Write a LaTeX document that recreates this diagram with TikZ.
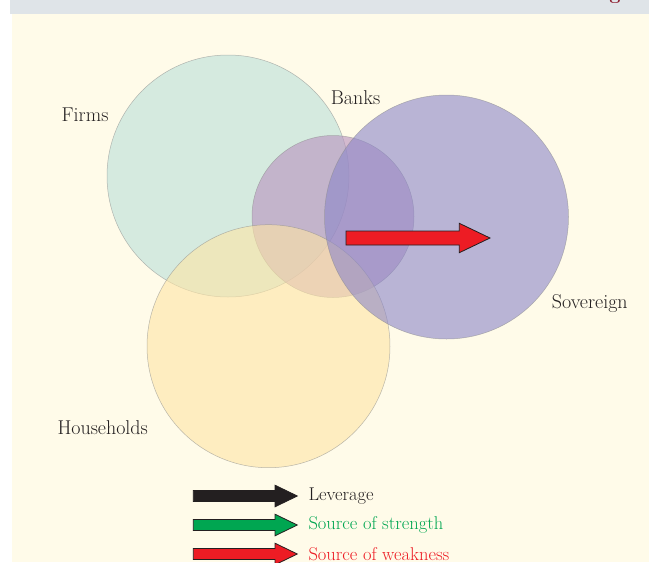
\documentclass[tikz,border=0pt]{standalone}
\usetikzlibrary{positioning}
\definecolor{bgcream}{HTML}{FFFBE9}
\definecolor{bandgray}{HTML}{DFE4E8}
\definecolor{firmsc}{HTML}{BADFD9}
\definecolor{banksc}{HTML}{B890BE}
\definecolor{housec}{HTML}{FEE5A5}
\definecolor{soverc}{HTML}{8B86C8}
\definecolor{txtdark}{HTML}{231F20}
\definecolor{arrred}{HTML}{ED1C24}
\definecolor{arrgreen}{HTML}{00A651}
\definecolor{titlered}{HTML}{8B1A2B}
\tikzset{
  setc/.style={circle, draw=black!45, draw opacity=0.6, line width=0.5pt, fill opacity=0.6, inner sep=0pt},
  lbl/.style={text=txtdark, inner sep=0pt, anchor=base west, font=\fontsize{20}{24}\selectfont},
  leg/.style={inner sep=0pt, anchor=base west, font=\fontsize{18.5}{22}\selectfont},
  fatarrow/.style={draw=txtdark, line width=0.8pt, line join=miter},
}
\begin{document}
\begin{tikzpicture}[x=1pt,y=-1pt]
\useasboundingbox (0,0) rectangle (649,563);
% background
\fill[bgcream] (12,14) rectangle (649,562);
\fill[bandgray] (10,0) rectangle (649,14);
\node[text=titlered, inner sep=0pt, anchor=base, font=\bfseries\fontsize{20}{24}\selectfont] (titleg) at (615,-1) {g};
% circles
\node[setc, fill=firmsc, minimum size=242pt] (firms) at (228,176) {};
\node[setc, fill=banksc, minimum size=162pt] (banks) at (333,216.5) {};
\node[setc, fill=housec, minimum size=243pt] (house) at (268.5,346.2) {};
\node[setc, fill=soverc, minimum size=244pt] (sover) at (446.5,217) {};
% labels
\node[lbl] (lfirms) at (61.5,121.7) {Firms};
\node[lbl] (lbanks) at (330.7,104.3) {Banks};
\node[lbl] (lsover) at (551.7,308.3) {Sovereign};
\node[lbl] (lhouse) at (57.3,434.3) {Households};
% main red arrow
\draw[fatarrow, fill=arrred] (346,231) -- (459.3,231) -- (459.3,223.3) -- (490,238) -- (459.3,252.7) -- (459.3,245) -- (346,245) -- cycle;
% legend arrows
\draw[fatarrow, fill=txtdark] (193.3,490.5) -- (275,490.5) -- (275,485.2) -- (297.3,496) -- (275,506.8) -- (275,501.5) -- (193.3,501.5) -- cycle;
\draw[fatarrow, fill=arrgreen] (193.3,519.5) -- (275,519.5) -- (275,514.2) -- (297.3,525) -- (275,535.8) -- (275,530.5) -- (193.3,530.5) -- cycle;
\draw[fatarrow, fill=arrred] (193.3,548.5) -- (275,548.5) -- (275,543.2) -- (297.3,554) -- (275,564.8) -- (275,559.5) -- (193.3,559.5) -- cycle;
% legend texts
\node[leg, text=txtdark] (tlev) at (308.3,500) {Leverage};
\node[leg, text=arrgreen] (tstr) at (308.3,529.3) {Source of strength};
\node[leg, text=arrred] (twea) at (308.3,560) {Source of weakness};
\end{tikzpicture}
\end{document}
